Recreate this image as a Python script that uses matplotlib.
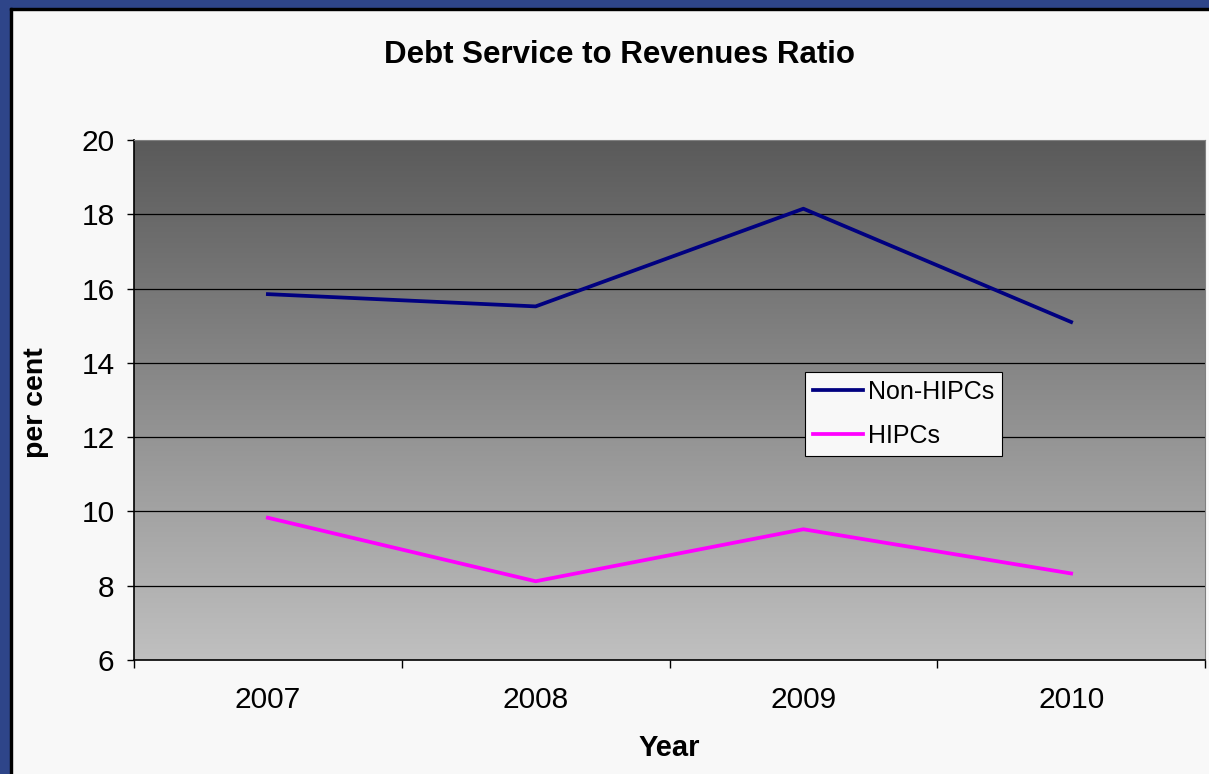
import matplotlib
matplotlib.use("Agg")
import matplotlib.pyplot as plt
import numpy as np
from matplotlib.patches import Rectangle
from matplotlib.colors import LinearSegmentedColormap

years = ["2007", "2008", "2009", "2010"]
non_hipcs = [15.85, 15.52, 18.15, 15.1]
hipcs = [9.83, 8.12, 9.52, 8.33]
yticks = [6, 8, 10, 12, 14, 16, 18, 20]

plt.rcParams['font.family'] = ['Liberation Sans', 'DejaVu Sans']

W, H = 1209, 774
fig = plt.figure(figsize=(W/100, H/100), dpi=100)
fig.patch.set_facecolor('#f8f8f8')

# frame: blue outer border on left/top, black inner line
fig.add_artist(Rectangle((0, 1 - 8/H), 1, 8/H, transform=fig.transFigure, color='#2e4589', zorder=-5))
fig.add_artist(Rectangle((0, 0), 10/W, 1, transform=fig.transFigure, color='#2e4589', zorder=-5))
fig.add_artist(Rectangle((10/W, 1 - 10/H), 1, 2/H, transform=fig.transFigure, color='black', zorder=-4))
fig.add_artist(Rectangle((10/W, 0), 2/W, 1 - 8/H, transform=fig.transFigure, color='black', zorder=-4))

x0, x1, y0, y1 = 134, 1205, 140, 660
ax = fig.add_axes([x0/W, 1 - y1/H, (x1 - x0)/W, (y1 - y0)/H])

x = np.arange(len(years))
ax.set_xlim(-0.5, len(years) - 0.5)
ax.set_ylim(6, 20)

cmap = LinearSegmentedColormap.from_list('g', ['#c0c0c0', '#5a5a5a'])
grad = np.linspace(0, 1, 256).reshape(-1, 1)
ax.imshow(grad, cmap=cmap, aspect='auto', origin='lower',
          extent=[-0.5, len(years) - 0.5, 6, 20], zorder=0)

for v in yticks[1:-1]:
    ax.axhline(v, color='black', lw=0.9, zorder=1)

ax.plot(x, non_hipcs, color='#000080', lw=2.7, label='Non-HIPCs', zorder=3)
ax.plot(x, hipcs, color='#ff00ff', lw=2.7, label='HIPCs', zorder=3)

ax.set_yticks(yticks)
ax.set_yticklabels([str(v) for v in yticks], fontsize=21.5)
ax.set_xticks(np.arange(-0.5, len(years)), minor=False)
ax.set_xticklabels([])
ax.set_xticks(x, minor=True)
ax.set_xticklabels(years, minor=True, fontsize=21.5)
ax.tick_params(axis='x', which='minor', length=0, pad=19)
ax.tick_params(axis='x', which='major', length=6, width=1, direction='out')
ax.tick_params(axis='y', length=5, width=1, direction='out', pad=9)

for s in ['left', 'bottom']:
    ax.spines[s].set_color('black')
    ax.spines[s].set_linewidth(1.2)
ax.spines['top'].set_color('#808080')
ax.spines['right'].set_color('#808080')

fig.text(36/W, 1 - 403/H, 'per cent', rotation=90, ha='center', va='center',
         fontsize=20.5, fontweight='bold')
fig.text(669/W, 1 - 748/H, 'Year', ha='center', va='center',
         fontsize=21, fontweight='bold')
fig.text(620/W, 1 - 55/H, 'Debt Service to Revenues Ratio',
         ha='center', va='center', fontsize=22.5, fontweight='bold')

leg = ax.legend(loc='upper left', bbox_to_anchor=((805 - x0)/(x1 - x0), 1 - (372 - y0)/(y1 - y0)),
                fontsize=18, frameon=True, fancybox=False, framealpha=1,
                edgecolor='black', facecolor='#f8f8f8', handlelength=2.0,
                borderpad=0.32, labelspacing=0.8, handletextpad=0.2, borderaxespad=0)
leg.get_frame().set_linewidth(0.8)

fig.savefig('out.png', dpi=100, facecolor=fig.get_facecolor())
